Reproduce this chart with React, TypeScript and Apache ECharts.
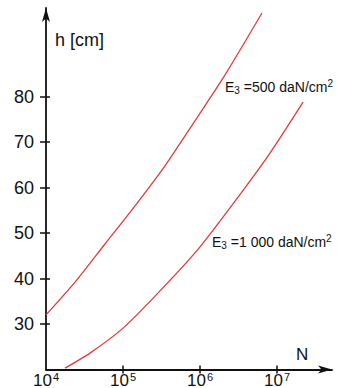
import React, { useEffect, useRef } from "react";
import * as echarts from "echarts";

// x = log10(N)
const curve500LogN = [4.0, 4.377, 4.766, 5.156, 5.545, 5.935, 6.325, 6.805];
const curve500H = [32.0, 39.2, 47.6, 56.0, 64.8, 74.7, 84.8, 98.4];
const curve1000LogN = [4.247, 4.571, 5.0, 5.481, 5.987, 6.506, 6.909, 7.338];
const curve1000H = [20.3, 23.6, 29.1, 37.3, 46.7, 58.2, 67.6, 78.8];
const yTicks = [30, 40, 50, 60, 70, 80];
const xTickLabels = [4, 5, 6, 7];
const xTicks = [5, 6, 7];

const FONT = "Liberation Sans, Arial, sans-serif";

export default function App() {
  const ref = useRef<HTMLDivElement>(null);
  useEffect(() => {
    const chart = echarts.init(ref.current!, null, { renderer: "svg" });
    const tickStyle = { color: "#111", width: 1.5 };
    chart.setOption({
      animation: false,
      backgroundColor: "#ffffff",
      grid: { left: 46, right: 13, top: 8, bottom: 18.5, outerBoundsMode: "none", containLabel: false },
      xAxis: [
        {
          type: "value",
          min: 4,
          max: 7.714,
          axisLine: {
            onZero: false,
            lineStyle: { color: "#111", width: 1.8 },
            symbol: ["none", "arrow"],
            symbolSize: [6, 14],
          },
          axisTick: { show: true, length: 4, customValues: xTicks, lineStyle: tickStyle },
          splitLine: { show: false },
          axisLabel: {
            customValues: xTickLabels,
            margin: 2,
            color: "#111",
            fontFamily: FONT,
            fontSize: 17,
            formatter: (v: number) => "{b|10}{s|" + Math.round(v) + "}",
            rich: {
              b: { fontSize: 17, fontFamily: FONT, color: "#111" },
              s: { fontSize: 11, fontFamily: FONT, color: "#111", padding: [0, 0, 6, 1] },
            },
          },
        },
        {
          type: "value",
          min: 4,
          max: 7.714,
          position: "bottom",
          axisLine: { show: false, onZero: false },
          axisTick: { show: true, inside: true, length: 4, customValues: xTicks, lineStyle: tickStyle },
          axisLabel: { show: false },
          splitLine: { show: false },
        },
      ],
      yAxis: [
        {
          type: "value",
          min: 20,
          max: 99.5,
          axisLine: {
            show: true,
            onZero: false,
            lineStyle: { color: "#111", width: 1.8 },
            symbol: ["none", "arrow"],
            symbolSize: [6, 14],
          },
          axisTick: { show: true, length: 6, customValues: yTicks, lineStyle: tickStyle },
          splitLine: { show: false },
          axisLabel: {
            customValues: yTicks,
            margin: 12,
            color: "#111",
            fontFamily: FONT,
            fontSize: 18,
          },
        },
        {
          type: "value",
          min: 20,
          max: 99.5,
          position: "left",
          axisLine: { show: false, onZero: false },
          axisTick: { show: true, inside: true, length: 4, customValues: yTicks, lineStyle: tickStyle },
          axisLabel: { show: false },
          splitLine: { show: false },
        },
      ],
      series: [
        {
          type: "line",
          data: curve500LogN.map((x, i) => [x, curve500H[i]]),
          smooth: 0.25,
          showSymbol: false,
          lineStyle: { color: "#e33b3b", width: 1.3 },
        },
        {
          type: "line",
          data: curve1000LogN.map((x, i) => [x, curve1000H[i]]),
          smooth: 0.25,
          showSymbol: false,
          lineStyle: { color: "#e33b3b", width: 1.3 },
        },
      ],
      graphic: [
        {
          type: "text",
          left: 55,
          top: 31,
          style: { text: "h [cm]", fontSize: 18, fontFamily: FONT, fill: "#111" },
        },
        {
          type: "text",
          left: 296,
          top: 346,
          style: { text: "N", fontSize: 17, fontFamily: FONT, fill: "#111" },
        },
        {
          type: "text",
          left: 225,
          top: 78,
          style: {
            text: "E{sub|3} =500 daN/cm{sup|2}",
            fontSize: 14,
            fontFamily: FONT,
            fill: "#111",
            rich: {
              sub: { fontSize: 10, fontFamily: FONT, fill: "#111", padding: [8, 0, 0, 0] },
              sup: { fontSize: 10, fontFamily: FONT, fill: "#111", padding: [0, 0, 7, 0] },
            },
          },
        },
        {
          type: "text",
          left: 212,
          top: 233,
          style: {
            text: "E{sub|3} =1 000 daN/cm{sup|2}",
            fontSize: 14,
            fontFamily: FONT,
            fill: "#111",
            rich: {
              sub: { fontSize: 10, fontFamily: FONT, fill: "#111", padding: [8, 0, 0, 0] },
              sup: { fontSize: 10, fontFamily: FONT, fill: "#111", padding: [0, 0, 7, 0] },
            },
          },
        },
      ],
    });
    return () => chart.dispose();
  }, []);
  return <div ref={ref} style={{ width: 345, height: 388, position: "fixed", left: 0, top: 0 }} />;
}
